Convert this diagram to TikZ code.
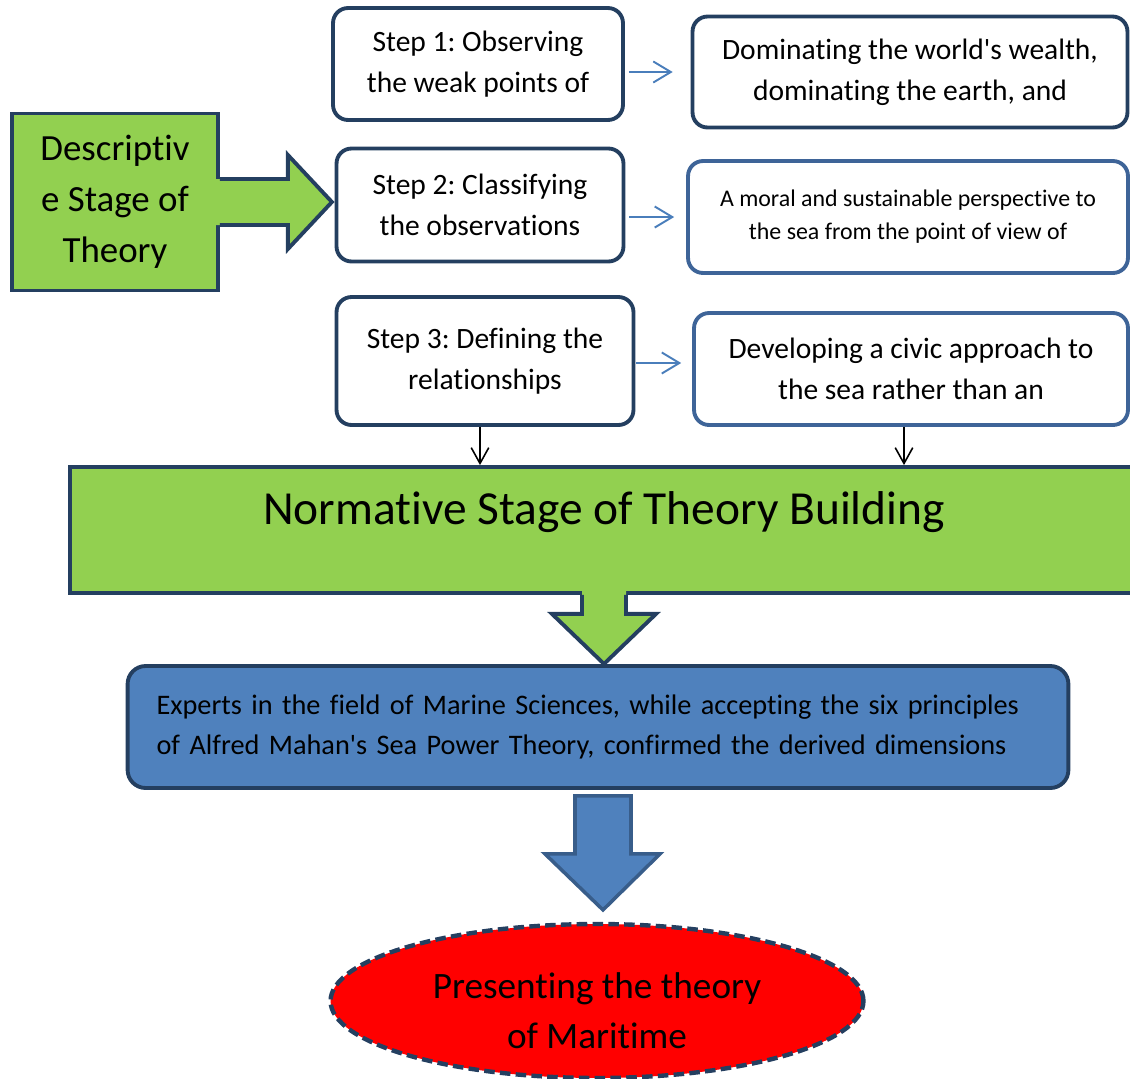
\documentclass[tikz,border=0pt]{standalone}
\usepackage{fontspec}
\setmainfont{Carlito}[Ligatures={NoCommon}]
\frenchspacing
\usetikzlibrary{arrows.meta,shapes.geometric}
\definecolor{navy}{HTML}{243F60}
\definecolor{midblue}{HTML}{3E6498}
\definecolor{leaf}{HTML}{92D050}
\definecolor{sea}{HTML}{4F81BD}
\definecolor{seaedge}{HTML}{385D8A}
\definecolor{linkblue}{HTML}{4A7EBB}
\begin{document}
\begin{tikzpicture}[x=0.02cm,y=-0.02cm,
		stepbox/.style={draw=navy,fill=white,line width=2.2pt,rounded corners=0.3cm,align=center,font=\fontsize{16.8}{23.2}\selectfont},
		stagebox/.style={draw=navy,fill=leaf,line width=2.2pt},
		link/.style={draw=linkblue,line width=1.1pt,-{Straight Barb[length=10pt,width=12pt]}},
		drop/.style={line width=0.9pt,-{Straight Barb[length=9pt,width=10pt]}}]
		\clip (0,0) rectangle (1130,1079);
		\node[stagebox,minimum width=4.12cm,minimum height=3.54cm,align=center,font=\fontsize{21}{29}\selectfont] (desc) at (115,202) {Descriptiv\\e Stage of\\Theory};
		\fill[leaf] (desc.east) ++(-4,-23) -- ++(72,0) -- ++(0,-24) -- ++(44,47) -- ++(-44,47) -- ++(0,-24) -- ++(-72,0) -- cycle;
		\draw[navy,line width=2.2pt,line join=miter] (desc.east) ++(0,-23) -- ++(68,0) -- ++(0,-24) -- ++(44,47) -- ++(-44,47) -- ++(0,-24) -- ++(-68,0);
		\node[stepbox,minimum width=5.8cm,minimum height=2.24cm] (step1) at (478,64) {Step 1: Observing\\the weak points of};
		\node[stepbox,minimum width=5.74cm,minimum height=2.26cm] (step2) at (480,205) {Step 2: Classifying\\the observations};
		\node[stepbox,minimum width=5.94cm,minimum height=2.56cm] (step3) at (485,361) {Step 3: Defining the\\relationships};
		\node[stepbox,minimum width=8.7cm,minimum height=2.22cm] (boxA) at (910,72) {Dominating the world\textquotesingle s wealth,\\dominating the earth, and};
		\node[stepbox,draw=midblue,minimum width=8.8cm,minimum height=2.24cm,font=\fontsize{13.6}{18.7}\selectfont] (boxB) at (908,217) {A moral and sustainable perspective to\\the sea from the point of view of};
		\node[stepbox,draw=midblue,minimum width=8.68cm,minimum height=2.24cm] (boxC) at (911,369) {Developing a civic approach to\\the sea rather than an};
		\draw[link,shorten <=2.3pt,shorten >=10.2pt] (step1.east |- boxA.west) -- (boxA.west);
		\draw[link,shorten <=2.3pt,shorten >=6.8pt] (step2.east |- boxB.west) -- (boxB.west);
		\draw[link,shorten <=0.6pt,shorten >=6.2pt] ([yshift=0.12cm]boxC.west -| step3.east) -- ([yshift=0.12cm]boxC.west);
		\node[stagebox,minimum width=21.36cm,minimum height=2.52cm,font=\fontsize{27}{32}\selectfont,text height=18pt,text depth=24pt] (normative) at (604,530) {Normative Stage of Theory Building};
		\draw[drop] ([xshift=-0.1cm]step3.south) -- ([xshift=-0.1cm]step3.south |- normative.north);
		\draw[drop] ([xshift=-0.14cm]boxC.south) -- ([xshift=-0.14cm]boxC.south |- normative.north);
		\fill[leaf] (normative.south) ++(-22,-4) -- ++(0,23) -- ++(-30,0) -- ++(52,50) -- ++(52,-50) -- ++(-30,0) -- ++(0,-23) -- cycle;
		\draw[navy,line width=2.2pt,line join=miter] (normative.south) ++(-22,0) -- ++(0,19) -- ++(-30,0) -- ++(52,50) -- ++(52,-50) -- ++(-30,0) -- ++(0,-19);
		\node[draw=navy,fill=sea,line width=2.2pt,rounded corners=0.36cm,minimum height=2.44cm,text width=17.66cm,inner xsep=0.58cm,align=left,font=\fontsize{16.1}{23.2}\selectfont] (experts) at (598,727) {\mbox{Experts in the field of Marine Sciences, while accepting the six principles}\\\mbox{of Alfred Mahan\textquotesingle s Sea Power Theory, confirmed the derived dimensions}};
		\draw[fill=sea,draw=seaedge,line width=2pt,line join=miter] (experts.south) ++(-23,6) -- ++(0,58) -- ++(-30,0) -- ++(58,56) -- ++(57,-56) -- ++(-29,0) -- ++(0,-58) -- cycle;
		\node[ellipse,draw=navy,fill=red,line width=2.5pt,dash pattern=on 6pt off 3pt,minimum width=10.66cm,minimum height=3.08cm,inner sep=0pt,align=center,font=\fontsize{21.2}{28.3}\selectfont] (theory) at (597,1001) {\rule{0pt}{26pt}Presenting the theory\\of Maritime};
	\end{tikzpicture}
\end{document}
